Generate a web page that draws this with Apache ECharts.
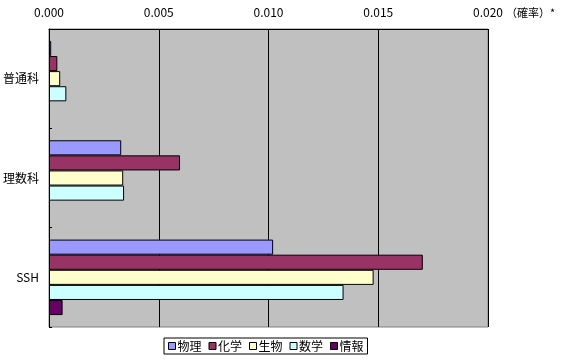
<!DOCTYPE html>
<html><head><meta charset="utf-8">
<script src="https://cdn.jsdelivr.net/npm/echarts@6/dist/echarts.min.js"></script>
<style>html,body{margin:0;padding:0;background:#fff}#c{width:571px;height:360px}</style>
</head><body><div id="c"></div>
<script>
const categories = ['普通科', '理数科', 'SSH'];
const seriesNames = ['物理', '化学', '生物', '数学', '情報'];
const physics = [0.0001, 0.00329, 0.01021];
const chemistry = [0.00038, 0.00597, 0.01703];
const biology = [0.00051, 0.00338, 0.01479];
const math = [0.00079, 0.00342, 0.01342];
const info = [0, 0, 0.00062];
const xTicks = [0, 0.005, 0.010, 0.015, 0.020];
const colors = ['#9999FF', '#993366', '#FFFFCC', '#CCFFFF', '#660066'];
const values = [physics, chemistry, biology, math, info];
const font = '"Noto Sans CJK JP", sans-serif';

const chart = echarts.init(document.getElementById('c'));
chart.setOption({
  animation: false,
  textStyle: {fontFamily: font},
  grid: {left: 48, top: 29, width: 440, height: 298, show: true, backgroundColor: '#C0C0C0', borderColor: '#808080', borderWidth: 1, containLabel: false},
  xAxis: {
    type: 'value', position: 'top', min: xTicks[0], max: xTicks[xTicks.length - 1], interval: 0.005,
    axisLine: {show: true, lineStyle: {color: '#000', width: 1}},
    axisTick: {show: false},
    axisLabel: {color: '#000', fontSize: 12, fontFamily: font, margin: 11, formatter: v => v.toFixed(3)},
    splitLine: {show: true, lineStyle: {color: '#000', width: 1}}
  },
  yAxis: {
    type: 'category', data: categories, inverse: true,
    axisLine: {show: true, lineStyle: {color: '#000', width: 1}},
    axisTick: {show: true, inside: true, length: 3, lineStyle: {color: '#000'}},
    axisLabel: {color: '#000', fontSize: 12, fontFamily: font, margin: 10}
  },
  legend: {
    left: 164, top: 338, data: seriesNames, orient: 'horizontal',
    icon: 'rect', itemWidth: 7, itemHeight: 7, itemGap: 7,
    borderColor: '#000', borderWidth: 1, padding: [2, 4, 2, 4],
    textStyle: {color: '#000', fontSize: 12, fontFamily: font, padding: [0, 0, 0, -3]},
    itemStyle: {borderColor: '#000', borderWidth: 1}
  },
  graphic: [{type: 'text', left: 506, top: 7, style: {text: '（確率）*', fill: '#000', font: '11px ' + font}}],
  series: seriesNames.map((n, i) => ({
    name: n, type: 'bar', data: values[i].map(v => v === 0 ? '-' : v),
    barGap: '0%', barCategoryGap: '24%',
    itemStyle: {color: colors[i], borderColor: '#000', borderWidth: 1}
  }))
});
</script></body></html>
